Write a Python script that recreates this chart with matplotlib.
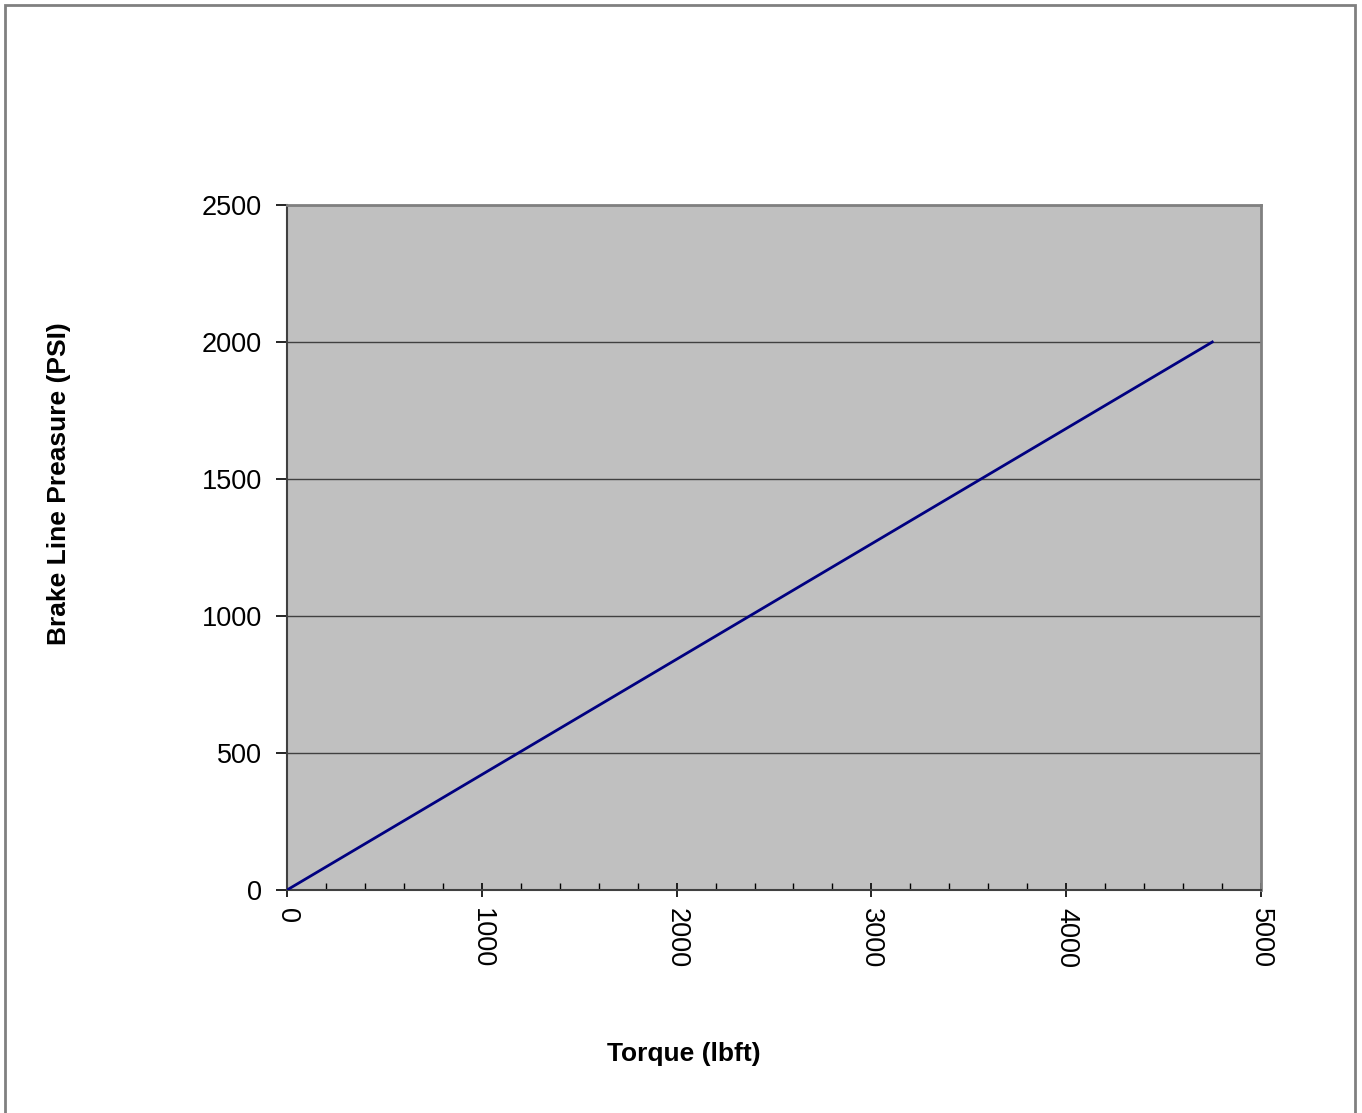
import matplotlib
matplotlib.use("Agg")
import matplotlib.pyplot as plt
from matplotlib.patches import Rectangle
from matplotlib.ticker import MultipleLocator

torque = [0, 4750]
pressure = [0, 2000]
x_ticks = [0, 1000, 2000, 3000, 4000, 5000]
y_ticks = [0, 500, 1000, 1500, 2000, 2500]

plt.rcParams['font.family'] = ['Liberation Sans', 'DejaVu Sans']

fig = plt.figure(figsize=(13.62, 11.13), dpi=100)

# outer chart frame (bottom edge runs off the image)
fig.patches.append(Rectangle((5/1362, -0.01), 1350/1362, 1 - 5/1113 + 0.01,
                             transform=fig.transFigure, fill=False,
                             edgecolor='#808080', linewidth=2))

ax = fig.add_axes([287/1362, 1 - 890/1113, 974/1362, 685/1113])
ax.set_facecolor('#c0c0c0')
ax.plot(torque, pressure, color='#000080', linewidth=2, zorder=3)

ax.set_xlim(0, 5000)
ax.set_ylim(0, 2500)
ax.set_xticks(x_ticks)
ax.set_yticks(y_ticks)
ax.xaxis.set_minor_locator(MultipleLocator(200))
ax.grid(axis='y', color='#404040', linewidth=1)
ax.set_axisbelow(True)

for s in ['top', 'right']:
    ax.spines[s].set_color('#808080')
    ax.spines[s].set_linewidth(2)
for s in ['left', 'bottom']:
    ax.spines[s].set_color('#404040')
    ax.spines[s].set_linewidth(1.5)

ax.tick_params(axis='x', which='major', direction='inout', length=10, width=1.2,
               labelsize=19.5, labelrotation=-90, pad=8)
ax.tick_params(axis='x', which='minor', direction='in', length=5, width=1)
ax.tick_params(axis='y', which='major', direction='out', length=8, width=1.2,
               labelsize=19.5, pad=10)
for lbl in ax.get_xticklabels():
    lbl.set_verticalalignment('top')

fig.text(684/1362, 1 - 1054/1113, 'Torque (lbft)', ha='center', va='center',
         fontsize=19, fontweight='bold')
fig.text(59/1362, 1 - 484/1113, 'Brake Line Preasure (PSI)', ha='center', va='center',
         rotation=90, fontsize=19, fontweight='bold')

fig.savefig('out.png', dpi=100)
